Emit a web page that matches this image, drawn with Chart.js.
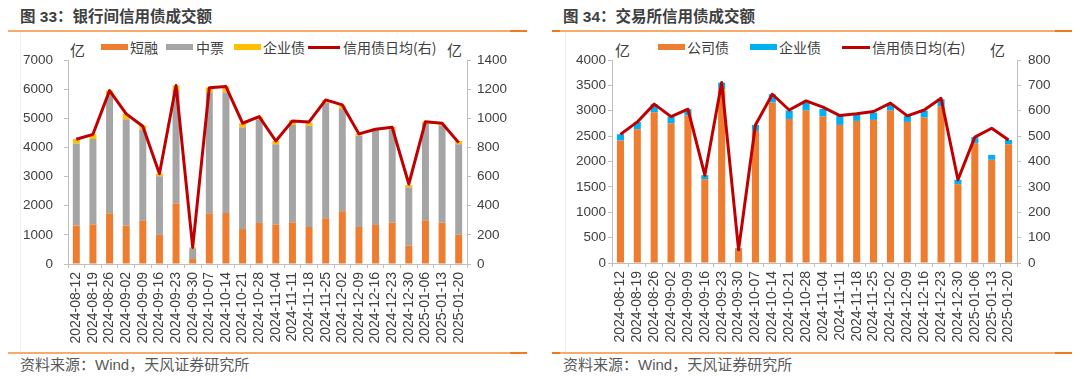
<!DOCTYPE html>
<html><head><meta charset="utf-8">
<script src="https://cdn.jsdelivr.net/npm/chart.js@4/dist/chart.umd.min.js"></script>
<style>
html,body{margin:0;padding:0;background:#fff;}
body{width:1080px;height:379px;position:relative;overflow:hidden;font-family:"Liberation Sans","Noto Sans CJK SC",sans-serif;}
.title{position:absolute;top:6px;font-size:15.5px;font-weight:bold;color:#404040;white-space:nowrap;line-height:22px;}
.src{position:absolute;top:355px;font-size:15px;color:#595959;white-space:nowrap;line-height:20px;}
.rule{position:absolute;height:2px;background:#F8AA6A;}
.rule i{position:absolute;right:0;top:0;width:17px;height:2px;background:#EE7A22;}
.rule b{position:absolute;left:0;top:0;width:8px;height:2px;background:#EE7A22;}
.vline{position:absolute;width:1px;background:#eeeeee;top:32px;height:320px;}
.unit{position:absolute;top:40px;font-size:15px;color:#404040;line-height:20px;font-family:"Noto Sans CJK SC",sans-serif;}
.lg{position:absolute;top:38px;font-size:14px;color:#404040;line-height:18px;white-space:nowrap;font-family:"Noto Sans CJK SC",sans-serif;}
.sw{position:absolute;top:44px;height:6px;}
.ln{position:absolute;top:46px;height:3px;background:#C00000;}
canvas{position:absolute;top:0;}
</style></head>
<body>
<div class="title" style="left:20px">图 33：银行间信用债成交额</div>
<div class="title" style="left:563px">图 34：交易所信用债成交额</div>
<div class="rule" style="left:8px;top:30px;width:519px"><i></i></div>
<div class="rule" style="left:552px;top:30px;width:520px"><b></b><i></i></div>
<div class="vline" style="left:20px"></div>
<div class="vline" style="left:565px"></div>
<div class="rule" style="left:8px;top:352px;width:519px"><i></i></div>
<div class="rule" style="left:552px;top:352px;width:520px"><b></b><i></i></div>
<div class="src" style="left:20px">资料来源：Wind，天风证券研究所</div>
<div class="src" style="left:563px">资料来源：Wind，天风证券研究所</div>

<div class="unit" style="left:70px">亿</div>
<div class="unit" style="left:447px">亿</div>
<div class="unit" style="left:615px">亿</div>
<div class="unit" style="left:990px">亿</div>

<div class="sw" style="left:101px;width:27px;background:#ED7D31"></div><div class="lg" style="left:130px">短融</div>
<div class="sw" style="left:166px;width:27px;background:#A5A5A5"></div><div class="lg" style="left:196px">中票</div>
<div class="sw" style="left:234px;width:27px;background:#FFC000"></div><div class="lg" style="left:263px">企业债</div>
<div class="ln" style="left:308px;width:32px"></div><div class="lg" style="left:343px">信用债日均(右)</div>

<div class="sw" style="left:658px;width:27px;background:#ED7D31"></div><div class="lg" style="left:687px">公司债</div>
<div class="sw" style="left:750px;width:27px;background:#00B0F0"></div><div class="lg" style="left:779px">企业债</div>
<div class="ln" style="left:842px;width:28px"></div><div class="lg" style="left:872px">信用债日均(右)</div>

<canvas id="c1" width="540" height="379" style="left:0px;width:540px;height:379px"></canvas>
<canvas id="c2" width="540" height="379" style="left:540px;width:540px;height:379px"></canvas>
<script>
const weeks = ["2024-08-12","2024-08-19","2024-08-26","2024-09-02","2024-09-09","2024-09-16","2024-09-23","2024-09-30","2024-10-07","2024-10-14","2024-10-21","2024-10-28","2024-11-04","2024-11-11","2024-11-18","2024-11-25","2024-12-02","2024-12-09","2024-12-16","2024-12-23","2024-12-30","2025-01-06","2025-01-13","2025-01-20"];

// 图33 银行间
const ibShortTerm = [1320,1360,1740,1320,1480,1000,2080,170,1740,1750,1200,1410,1360,1430,1270,1570,1810,1270,1340,1420,630,1500,1420,1000];
const ibMTN       = [2810,2930,4060,3645,3140,2010,3890,370,4150,4140,3490,3555,2750,3340,3470,3970,3510,3135,3260,3200,2000,3330,3340,3110];
const ibEnterprise= [160,160,150,185,130,90,150,30,160,200,140,95,110,170,110,90,115,80,55,80,80,55,45,110];
const ibDailyAvg  = [856,890,1190,1030,945,620,1225,114,1210,1218,966,1012,844,982,975,1126,1092,893,925,938,549,977,966,833];
const ibLeftTicks = [0,1000,2000,3000,4000,5000,6000,7000];
const ibRightTicks= [0,200,400,600,800,1000,1200,1400];

// 图34 交易所
const exCorporate = [2413,2636,2970,2754,2905,1652,3423,275,2603,3160,2839,3003,2885,2721,2800,2820,3003,2780,2866,3082,1554,2361,2033,2341];
const exEnterprise= [125,144,158,131,125,79,131,15,118,165,164,157,151,184,118,144,112,118,137,144,85,118,98,85];
const exDailyAvg  = [507,556,626,577,606,346,711,52,544,665,603,639,614,581,588,597,630,580,603,649,328,496,531,485];
const exLeftTicks = [0,500,1000,1500,2000,2500,3000,3500,4000];
const exRightTicks= [0,100,200,300,400,500,600,700,800];

const FONT = '"Liberation Sans","Noto Sans CJK SC",sans-serif';
const TXT = '#404040';
const AX = '#bfbfbf';

function makeChart(id, barSets, lineData, leftTicks, rightTicks, cfg) {
  const datasets = barSets.map(b => ({
    type:'bar', label:b.label, data:b.data, backgroundColor:b.color, borderWidth:0,
    yAxisID:'y', stack:'s', barPercentage:0.42, categoryPercentage:1.0, order:1
  }));
  datasets.push({
    type:'line', label:'信用债日均(右)', data:lineData, borderColor:'#C00000', backgroundColor:'#C00000',
    borderWidth:3, pointRadius:0, tension:0, yAxisID:'y1', order:0, borderJoinStyle:'round'
  });
  const lmax = leftTicks[leftTicks.length-1], rmax = rightTicks[rightTicks.length-1];
  const tickFont = {family:FONT,size:13.5};
  return new Chart(document.getElementById(id), {
    data:{labels:weeks, datasets},
    options:{
      responsive:false, animation:false, maintainAspectRatio:false,
      layout:{padding:{top:cfg.top,bottom:0,left:0,right:0}},
      plugins:{ tooltip:{enabled:false}, legend:{display:false} },
      scales:{
        x:{
          stacked:true, offset:true,
          grid:{display:true, drawOnChartArea:false, drawTicks:true, tickLength:4, color:AX, offset:true},
          border:{display:true,color:AX,width:1},
          ticks:{minRotation:90,maxRotation:90,autoSkip:false,color:TXT,font:{family:FONT,size:14},padding:4},
          afterFit:(s)=>{ s.height = 379 - cfg.bottom; }
        },
        y:{
          stacked:true, position:'left', min:0, max:lmax,
          afterBuildTicks:(s)=>{ s.ticks = leftTicks.map(v=>({value:v})); },
          grid:{display:true, drawOnChartArea:false, drawTicks:true, tickLength:4, color:AX},
          border:{display:true,color:AX,width:1},
          ticks:{color:TXT,font:tickFont,padding:cfg.lpad,callback:(v)=>String(v)},
          afterFit:(s)=>{ s.width = cfg.leftW; }
        },
        y1:{
          position:'right', min:0, max:rmax,
          afterBuildTicks:(s)=>{ s.ticks = rightTicks.map(v=>({value:v})); },
          grid:{display:true, drawOnChartArea:false, drawTicks:true, tickLength:4, color:AX},
          border:{display:true,color:AX,width:1},
          ticks:{color:TXT,font:tickFont,padding:cfg.rpad,callback:(v)=>String(v)},
          afterFit:(s)=>{ s.width = cfg.rightW; }
        }
      }
    }
  });
}

makeChart('c1', [
  {label:'短融', data:ibShortTerm, color:'#ED7D31'},
  {label:'中票', data:ibMTN, color:'#A5A5A5'},
  {label:'企业债', data:ibEnterprise, color:'#FFC000'}
], ibDailyAvg, ibLeftTicks, ibRightTicks, {top:60,bottom:264,leftW:68,rightW:73,lpad:11,rpad:6});

makeChart('c2', [
  {label:'公司债', data:exCorporate, color:'#ED7D31'},
  {label:'企业债', data:exEnterprise, color:'#00B0F0'}
], exDailyAvg, exLeftTicks, exRightTicks, {top:60,bottom:263,leftW:72,rightW:63,lpad:2,rpad:7});
</script>
</body></html>
